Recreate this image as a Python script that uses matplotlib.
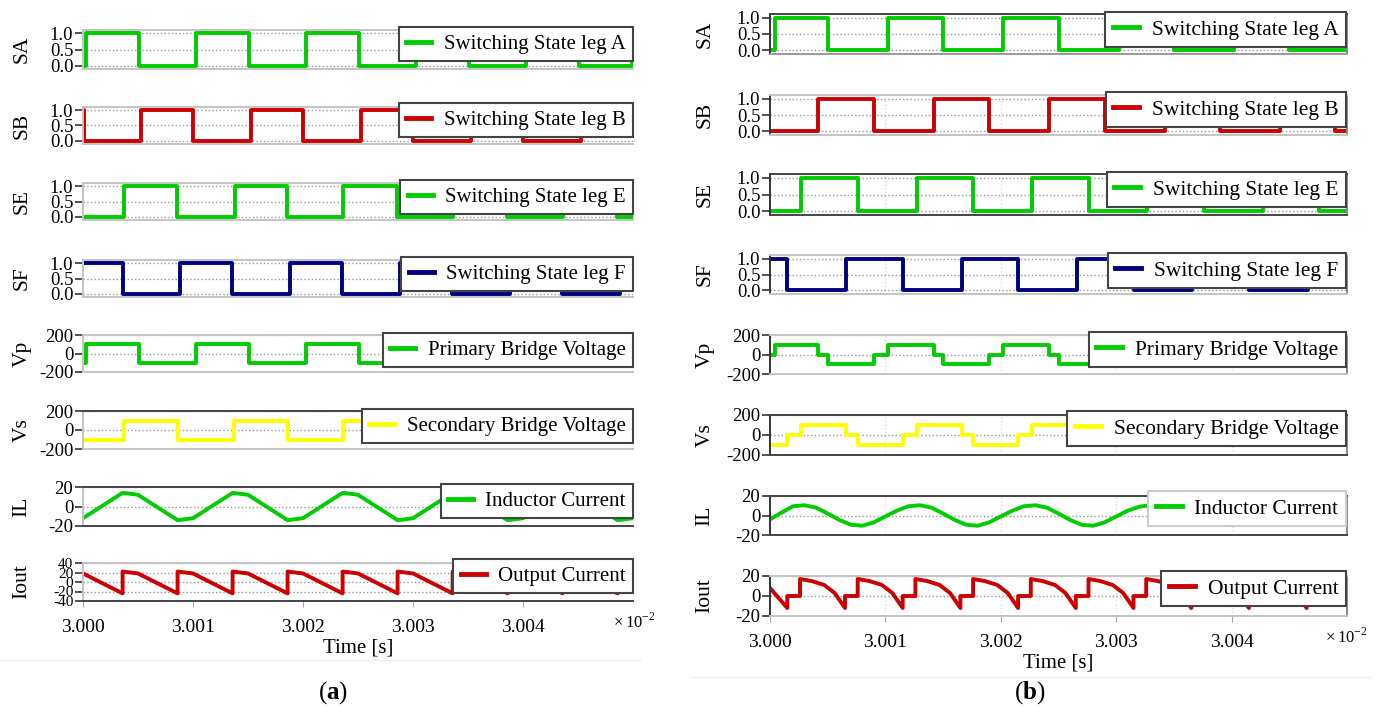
import numpy as np
import matplotlib.pyplot as plt
from matplotlib.lines import Line2D

plt.rcParams['font.family'] = ['Liberation Serif', 'DejaVu Serif']
plt.rcParams['mathtext.fontset'] = 'custom'
plt.rcParams['mathtext.rm'] = 'Liberation Serif'
plt.rcParams['mathtext.bf'] = 'Liberation Serif:bold'

# =====================================================
# DATA  (time in microseconds after t = 30 ms)
# =====================================================
# ---- panel (a) ----
SA_A_T = [0, 0.3, 5.1, 10.3, 15.1, 20.3, 25.1, 30.3, 35.1, 40.3, 45.1, 49.9, 50.0]
SA_A_V = [0, 1, 0, 1, 0, 1, 0, 1, 0, 1, 0, 1, 1]
SB_A_T = [0, 0.1, 5.3, 10.0, 15.3, 20.0, 25.3, 30.0, 35.3, 40.0, 45.3, 50.0]
SB_A_V = [1, 0, 1, 0, 1, 0, 1, 0, 1, 0, 1, 1]
SE_A_T = [0, 3.7, 8.5, 13.8, 18.5, 23.6, 28.5, 33.6, 38.5, 43.6, 48.5, 50.0]
SE_A_V = [0, 1, 0, 1, 0, 1, 0, 1, 0, 1, 0, 0]
SF_A_T = [0, 3.6, 8.8, 13.5, 18.8, 23.5, 28.8, 33.5, 38.8, 43.5, 48.8, 50.0]
SF_A_V = [1, 0, 1, 0, 1, 0, 1, 0, 1, 0, 1, 1]
VP_A_T = [0, 0.3, 5.1, 10.3, 15.1, 20.3, 25.1, 30.3, 35.1, 40.3, 45.1, 49.9, 50.0]
VP_A_V = [-100, 100, -100, 100, -100, 100, -100, 100, -100, 100, -100, 100, 100]
VS_A_T = [0, 3.7, 8.6, 13.7, 18.6, 23.6, 28.6, 33.6, 38.6, 43.6, 48.6, 50.0]
VS_A_V = [-100, 100, -100, 100, -100, 100, -100, 100, -100, 100, -100, -100]
IL_A_T = [0, 3.6, 4.0, 5.0, 8.6, 9.0, 10.0, 13.6, 14.0, 15.0, 18.6, 19.0, 20.0,
          23.6, 24.0, 25.0, 28.6, 29.0, 30.0, 33.6, 34.0, 35.0, 38.6, 39.0, 40.0,
          43.6, 44.0, 45.0, 48.6, 49.0, 50.0]
IL_A_V = [-12, 14, 13.5, 12, -14, -13.5, -12, 14, 13.5, 12, -14, -13.5, -12,
          14, 13.5, 12, -14, -13.5, -12, 14, 13.5, 12, -14, -13.5, -12,
          14, 13.5, 12, -14, -13.5, -12]
IOUT_A_T = [0, 3.6, 3.6, 5.0, 8.6, 8.6, 10.0, 13.6, 13.6, 15.0, 18.6, 18.6, 20.0,
            23.6, 23.6, 25.0, 28.6, 28.6, 30.0, 33.6, 33.6, 35.0, 38.6, 38.6, 40.0,
            43.6, 43.6, 45.0, 48.6, 48.6, 50.0]
IOUT_A_V = [18, -24, 22, 18, -24, 22, 18, -24, 22, 18, -24, 22, 18,
            -24, 22, 18, -24, 22, 18, -24, 22, 18, -24, 22, 18,
            -24, 22, 18, -24, 22, 18]

# ---- panel (b) ----
SA_B_T = [0, 0.4, 5.0, 10.2, 15.0, 20.2, 25.0, 30.2, 35.0, 40.2, 45.0, 50.0]
SA_B_V = [0, 1, 0, 1, 0, 1, 0, 1, 0, 1, 0, 1]
SB_B_T = [0, 4.2, 9.0, 14.2, 19.0, 24.2, 29.0, 34.2, 39.0, 44.2, 49.0, 50.0]
SB_B_V = [0, 1, 0, 1, 0, 1, 0, 1, 0, 1, 0, 0]
SE_B_T = [0, 2.7, 7.6, 12.7, 17.6, 22.7, 27.6, 32.7, 37.6, 42.7, 47.6, 50.0]
SE_B_V = [0, 1, 0, 1, 0, 1, 0, 1, 0, 1, 0, 0]
SF_B_T = [0, 1.5, 6.6, 11.5, 16.6, 21.5, 26.6, 31.5, 36.6, 41.5, 46.6, 50.0]
SF_B_V = [1, 0, 1, 0, 1, 0, 1, 0, 1, 0, 1, 1]
VP_B_T = [0, 0.4, 4.2, 5.0, 9.0, 10.2, 14.2, 15.0, 19.0, 20.2, 24.2, 25.0,
          29.0, 30.2, 34.2, 35.0, 39.0, 40.2, 44.2, 45.0, 49.0, 50.0]
VP_B_V = [0, 100, 0, -100, 0, 100, 0, -100, 0, 100, 0, -100,
          0, 100, 0, -100, 0, 100, 0, -100, 0, 100]
VS_B_T = [0, 1.5, 2.7, 6.6, 7.6, 11.5, 12.7, 16.6, 17.6, 21.5, 22.7, 26.6,
          27.6, 31.5, 32.7, 36.6, 37.6, 41.5, 42.7, 46.6, 47.6, 50.0]
VS_B_V = [-100, 0, 100, 0, -100, 0, 100, 0, -100, 0, 100, 0,
          -100, 0, 100, 0, -100, 0, 100, 0, -100, -100]
IL_B_T = [0, 1, 2, 3, 4, 5, 6, 7, 8, 9, 10, 11, 12, 13, 14, 15, 16,
          17, 18, 19, 20, 21, 22, 23, 24, 25, 26, 27, 28, 29, 30, 31, 32, 32.6]
IL_B_V = [-4, 3, 9.5, 10.5, 8, 2, -4.5, -9.5, -10.5, -7,
          -1, 5, 9.5, 10.5, 8, 2, -4.5, -9.5, -10.5, -7,
          -1, 5, 9.5, 10.5, 8, 2, -4.5, -9.5, -10.5, -7,
          -1, 5, 9, 10]
IOUT_B_T = [0, 1.5, 1.5, 2.6, 2.6, 3.6, 4.7, 5.6,
            6.5, 6.5, 7.6, 7.6, 8.6, 9.7, 10.6,
            11.5, 11.5, 12.6, 12.6, 13.6, 14.7, 15.6,
            16.5, 16.5, 17.6, 17.6, 18.6, 19.7, 20.6,
            21.5, 21.5, 22.6, 22.6, 23.6, 24.7, 25.6,
            26.5, 26.5, 27.6, 27.6, 28.6, 29.7, 30.6,
            31.5, 31.5, 32.6, 32.6, 33.6, 34.7, 35.6,
            36.5, 36.5, 37.6, 37.6, 38.6, 39.7, 40.6,
            41.5, 41.5, 42.6, 42.6, 43.6, 44.7, 45.6,
            46.5, 46.5, 47.6, 47.6, 48.6, 49.7, 50.0]
IOUT_B_V = [8, -12, 0, 0, 17, 15, 11, 3,
            -12, 0, 0, 17, 15, 11, 3,
            -12, 0, 0, 17, 15, 11, 3,
            -12, 0, 0, 17, 15, 11, 3,
            -12, 0, 0, 17, 15, 11, 3,
            -12, 0, 0, 17, 15, 11, 3,
            -12, 0, 0, 17, 15, 11, 3,
            -12, 0, 0, 17, 15, 11, 3,
            -12, 0, 0, 17, 15, 11, 3,
            -12, 0, 0, 17, 15, 11, 9]

NAMES = ['SA', 'SB', 'SE', 'SF', 'Vp', 'Vs', 'IL', 'Iout']
LABELS = ['Switching State leg A', 'Switching State leg B', 'Switching State leg E',
          'Switching State leg F', 'Primary Bridge Voltage', 'Secondary Bridge Voltage',
          'Inductor Current', 'Output Current']
X_TICKS = [3.000, 3.001, 3.002, 3.003, 3.004]

# =====================================================
# STYLE / LAYOUT
# =====================================================
GREEN, RED, NAVY, YELLOW = '#00cc00', '#cc0000', '#000080', '#ffff00'
COLORS = [GREEN, RED, GREEN, NAVY, GREEN, YELLOW, GREEN, RED]
STEP = [True] * 6 + [False] * 2
LIGHT, DARK = '#c4c4c4', '#444444'

SW_TICKS = ([0, 0.5, 1.0], ['0.0', '0.5', '1.0'])
V_TICKS = ([-200, 0, 200], ['-200', '0', '200'])
I_TICKS = ([-20, 0, 20], ['-20', '0', '20'])

PANELS = [
    dict(series=[(SA_A_T, SA_A_V), (SB_A_T, SB_A_V), (SE_A_T, SE_A_V), (SF_A_T, SF_A_V),
                 (VP_A_T, VP_A_V), (VS_A_T, VS_A_V), (IL_A_T, IL_A_V), (IOUT_A_T, IOUT_A_V)],
         x0=83, x1=633, ylab_x=22, fs_leg=15,
         boxes=[(30, 69), (107, 144), (183, 220), (260, 297),
                (335, 372), (411, 449), (487, 526), (563, 601)],
         leg=[(633, 27), (633, 103), (633, 180), (633, 257),
              (633, 333), (633, 409), (633, 484), (633, 559)],
         ylims=[(-0.1, 1.1)] * 4 + [(-200, 200), (-200, 200), (-20, 20), (-40, 40)],
         ticks=[SW_TICKS] * 4 + [V_TICKS, V_TICKS, I_TICKS,
                                 ([-40, -20, 0, 20, 40], ['-40', '-20', '0', '20', '40'])],
         tick_fs=[13.5] * 7 + [11],
         top=[LIGHT] * 5 + [DARK, DARK, LIGHT],
         bottom=[LIGHT] * 6 + [DARK, DARK],
         left=LIGHT, right=None, leg_edge=[DARK] * 8,
         ticklab_pad=9, vgrid=False,
         xlabel_y=648, xscale_xy=(613, 622), tag='a', tag_xy=(333, 693)),
    dict(series=[(SA_B_T, SA_B_V), (SB_B_T, SB_B_V), (SE_B_T, SE_B_V), (SF_B_T, SF_B_V),
                 (VP_B_T, VP_B_V), (VS_B_T, VS_B_V), (IL_B_T, IL_B_V), (IOUT_B_T, IOUT_B_V)],
         x0=770, x1=1347, ylab_x=705, fs_leg=15.5,
         boxes=[(14, 54), (95, 135), (174, 215), (255, 294),
                (335, 374), (415, 455), (496, 535), (576, 616)],
         leg=[(1346, 12), (1346, 92), (1346, 172), (1346, 253),
              (1346, 332), (1346, 411), (1346, 491), (1346, 571)],
         ylims=[(-0.12, 1.12)] * 4 + [(-200, 200), (-200, 200), (-20, 20), (-20, 20)],
         ticks=[SW_TICKS] * 4 + [V_TICKS, V_TICKS, I_TICKS, I_TICKS],
         tick_fs=[13.5] * 8,
         top=[DARK, LIGHT, DARK, LIGHT, LIGHT, DARK, DARK, LIGHT],
         bottom=['#999999', LIGHT, DARK, LIGHT, LIGHT, DARK, DARK, LIGHT],
         left='#333333', right='#888888', leg_edge=[DARK] * 6 + ['#cccccc', DARK],
         ticklab_pad=9, vgrid=True,
         xlabel_y=663, xscale_xy=(1325, 637), tag='b', tag_xy=(1030, 693)),
]

W, H = 1384, 713
fig = plt.figure(figsize=(W / 100, H / 100), dpi=100)


def to_x(t_us):
    return 3.0 + np.asarray(t_us, dtype=float) * 1e-4


for p in PANELS:
    n = len(p['series'])
    for i, (t, v) in enumerate(p['series']):
        ytop, ybot = p['boxes'][i]
        ax = fig.add_axes([p['x0'] / W, 1 - ybot / H,
                           (p['x1'] - p['x0']) / W, (ybot - ytop) / H])
        ax.plot(to_x(t), v, color=COLORS[i], lw=2.8, label=LABELS[i],
                drawstyle='steps-post' if STEP[i] else 'default')
        ax.set_xlim(3.0, 3.005)
        ax.set_ylim(*p['ylims'][i])
        yt, ytl = p['ticks'][i]
        ax.set_yticks(yt)
        ax.set_yticklabels(ytl)
        ax.set_xticks(X_TICKS)
        ax.grid(axis='y', color='#999999', ls=':', lw=1.0)
        if p['vgrid']:
            ax.grid(axis='x', color='#dddddd', ls=':', lw=1.0)

        ax.spines['top'].set_color(p['top'][i])
        ax.spines['bottom'].set_color(p['bottom'][i])
        ax.spines['left'].set_color(p['left'])
        for s in ['top', 'bottom', 'left']:
            ax.spines[s].set_linewidth(1.4)
        if p['right'] is None:
            ax.spines['right'].set_visible(False)
        else:
            ax.spines['right'].set_color(p['right'])
            ax.spines['right'].set_linewidth(1.4)

        ax.tick_params(axis='y', length=6, width=1.2, color='#333333', pad=1,
                       labelsize=p['tick_fs'][i])
        if i == n - 1:
            ax.set_xticklabels(['%.3f' % x for x in X_TICKS])
            ax.tick_params(axis='x', length=4, color='#aaaaaa',
                           pad=p['ticklab_pad'], labelsize=14)
        else:
            ax.set_xticklabels([])
            ax.tick_params(axis='x', length=0)

        ax.legend(loc='upper right',
                  bbox_to_anchor=(p['leg'][i][0] / W, 1 - p['leg'][i][1] / H),
                  bbox_transform=fig.transFigure, fontsize=p['fs_leg'],
                  frameon=True, fancybox=False, framealpha=1.0,
                  edgecolor=p['leg_edge'][i], borderpad=0.35, borderaxespad=0,
                  handlelength=1.2, handletextpad=0.6)
        ax.get_legend().get_frame().set_linewidth(1.5)
        for h in ax.get_legend().get_lines():
            h.set_linewidth(3.5)

        fig.text(p['ylab_x'] / W, 1 - (ytop + ybot) / 2 / H, NAMES[i],
                 rotation=90, ha='center', va='center', fontsize=15.5)

    xc = (p['x0'] + p['x1']) / 2
    fig.text(xc / W, 1 - p['xlabel_y'] / H, 'Time [s]',
             ha='center', va='center', fontsize=15)
    fig.text(p['xscale_xy'][0] / W, 1 - p['xscale_xy'][1] / H,
             r'$\times\,10^{-2}$', ha='left', va='center', fontsize=12)
    fig.text(p['tag_xy'][0] / W, 1 - p['tag_xy'][1] / H,
             r'($\mathbf{%s}$)' % p['tag'], ha='center', va='center', fontsize=18)

# faint frame lines of the two sub-pictures
fig.add_artist(Line2D([0, 640 / W], [1 - 660 / H] * 2, color='#eeeeee', lw=1))
fig.add_artist(Line2D([690 / W, 1370 / W], [1 - 677 / H] * 2, color='#eeeeee', lw=1))

fig.savefig('out.png', dpi=100, facecolor='white')
